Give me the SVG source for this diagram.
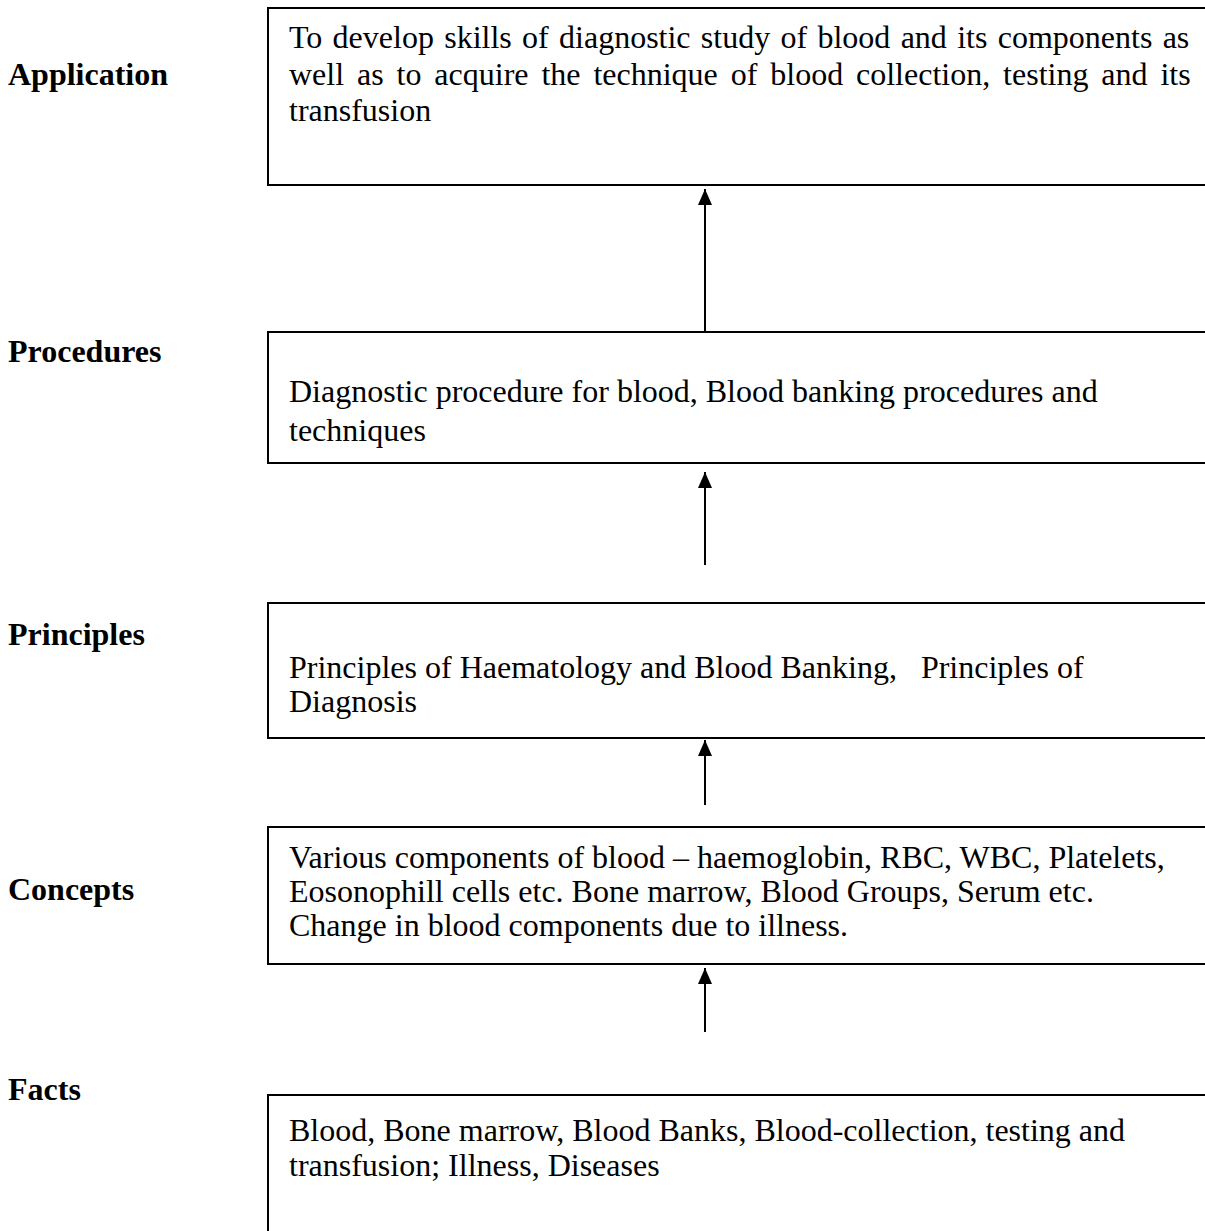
<svg xmlns="http://www.w3.org/2000/svg" width="1205" height="1231" viewBox="0 0 1205 1231">
<style>
.box{fill:#fff;stroke:#000;stroke-width:2}
.lbl{font-family:"Liberation Serif","Times New Roman",serif;font-size:32px;font-weight:bold;fill:#000}
.txt{font-family:"Liberation Serif","Times New Roman",serif;font-size:32px;fill:#000}
.conn{stroke:#000;stroke-width:2;fill:none}
</style>
<defs>
<marker id="ah" markerWidth="16" markerHeight="14" refX="16" refY="7" orient="auto" markerUnits="userSpaceOnUse" viewBox="0 0 16 14">
<path d="M0,0 L16,7 L0,14 Z" fill="#000"/>
</marker>
</defs>
<rect width="1205" height="1231" fill="#fff"/>
<g id="application">
<text class="lbl" x="8" y="85">Application</text>
<rect class="box" x="268" y="8" width="960" height="177"/>
<text class="txt" x="289" y="48" word-spacing="2.3">To develop skills of diagnostic study of blood and its components as</text>
<text class="txt" x="289" y="85" word-spacing="4.9">well as to acquire the technique of blood collection, testing and its</text>
<text class="txt" x="289" y="121">transfusion</text>
</g>
<g id="procedures">
<text class="lbl" x="8" y="362">Procedures</text>
<rect class="box" x="268" y="332" width="960" height="131"/>
<text class="txt" x="289" y="402">Diagnostic procedure for blood, Blood banking procedures and</text>
<text class="txt" x="289" y="441">techniques</text>
</g>
<g id="principles">
<text class="lbl" x="8" y="645">Principles</text>
<rect class="box" x="268" y="603" width="960" height="135"/>
<text class="txt" x="289" y="678" xml:space="preserve">Principles of Haematology and Blood Banking,   Principles of</text>
<text class="txt" x="289" y="712">Diagnosis</text>
</g>
<g id="concepts">
<text class="lbl" x="8" y="900">Concepts</text>
<rect class="box" x="268" y="827" width="960" height="137"/>
<text class="txt" x="289" y="868">Various components of blood – haemoglobin, RBC, WBC, Platelets,</text>
<text class="txt" x="289" y="902">Eosonophill cells etc. Bone marrow, Blood Groups, Serum etc.</text>
<text class="txt" x="289" y="936">Change in blood components due to illness.</text>
</g>
<g id="facts">
<text class="lbl" x="8" y="1100">Facts</text>
<rect class="box" x="268" y="1095" width="960" height="160"/>
<text class="txt" x="289" y="1141">Blood, Bone marrow, Blood Banks, Blood-collection, testing and</text>
<text class="txt" x="289" y="1176">transfusion; Illness, Diseases</text>
</g>
<g id="connectors">
<line class="conn" x1="705" y1="332" x2="705" y2="189" marker-end="url(#ah)"/>
<line class="conn" x1="705" y1="565" x2="705" y2="472" marker-end="url(#ah)"/>
<line class="conn" x1="705" y1="805" x2="705" y2="740" marker-end="url(#ah)"/>
<line class="conn" x1="705" y1="1032" x2="705" y2="968" marker-end="url(#ah)"/>
</g>
</svg>
